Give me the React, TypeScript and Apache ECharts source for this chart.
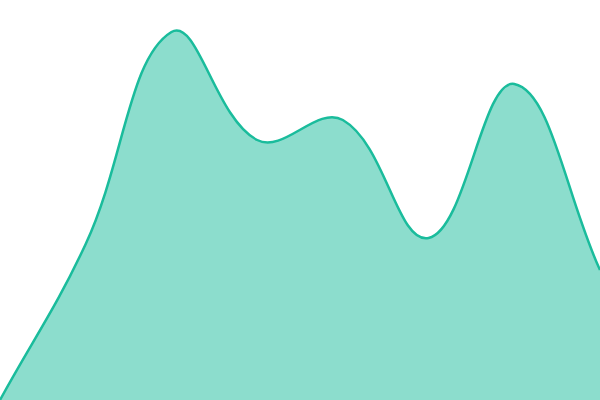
import { useEffect, useRef } from 'react';
import * as echarts from 'echarts';

const categories = ['A', 'B', 'C', 'D', 'E', 'F', 'G', 'H'];
const values = [0, 39, 92, 65, 70, 40.5, 79, 32.5];

const TENSION = 0.4;

// cardinal spline through the points (no y clamping, so peaks can drift off the data points)
function splinePath(pts: number[][]) {
  const n = pts.length;
  const cps = pts.map((cur, i) => {
    const prev = pts[i - 1] || cur;
    const next = pts[i + 1] || cur;
    const d01 = Math.hypot(cur[0] - prev[0], cur[1] - prev[1]);
    const d12 = Math.hypot(next[0] - cur[0], next[1] - cur[1]);
    const sum = d01 + d12 || 1;
    const fa = (TENSION * d01) / sum;
    const fb = (TENSION * d12) / sum;
    return {
      prev: [cur[0] - fa * (next[0] - prev[0]), cur[1] - fa * (next[1] - prev[1])],
      next: [cur[0] + fb * (next[0] - prev[0]), cur[1] + fb * (next[1] - prev[1])],
    };
  });
  let d = `M${pts[0][0]},${pts[0][1]}`;
  for (let i = 1; i < n; i++) {
    const a = cps[i - 1].next;
    const b = cps[i].prev;
    d += ` C${a[0]},${a[1]} ${b[0]},${b[1]} ${pts[i][0]},${pts[i][1]}`;
  }
  return d;
}

export default function App() {
  const chartRef = useRef<HTMLDivElement>(null);

  useEffect(() => {
    if (!chartRef.current) return;
    const chart = echarts.init(chartRef.current, undefined, { renderer: 'svg' });
    chart.setOption({
      animation: false,
      grid: { left: 0, right: 0, top: 0, bottom: 0 },
      xAxis: {
        type: 'category',
        data: categories,
        boundaryGap: false,
        show: false,
      },
      yAxis: {
        type: 'value',
        min: 0,
        max: 100,
        show: false,
      },
      series: [
        {
          type: 'custom',
          data: values.map((v, i) => [i, v]),
          renderItem: (params: any, api: any) => {
            if (params.dataIndex !== 0) return null;
            const pts = values.map((v, i) => api.coord([i, v]));
            const base = api.coord([0, 0])[1];
            const line = splinePath(pts);
            const last = pts[pts.length - 1];
            const area = `${line} L${last[0]},${base} L${pts[0][0]},${base} Z`;
            return {
              type: 'group',
              children: [
                {
                  type: 'path',
                  shape: { pathData: area },
                  style: { fill: 'rgba(26,188,156,0.5)', stroke: 'none' },
                },
                {
                  type: 'path',
                  shape: { pathData: line },
                  style: { fill: 'none', stroke: '#1abc9c', lineWidth: 2.5 },
                },
              ],
            };
          },
        },
      ],
    });
    return () => chart.dispose();
  }, []);

  return (
    <div
      ref={chartRef}
      style={{ position: 'fixed', left: 0, top: 0, width: 600, height: 400 }}
    />
  );
}
